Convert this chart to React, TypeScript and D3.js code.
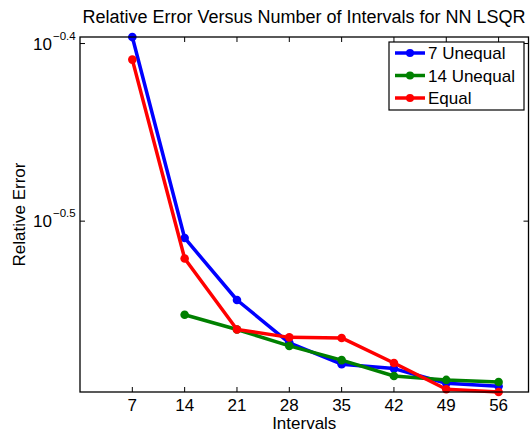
import React from "react";
import * as d3 from "d3";

const intervals = [7, 14, 21, 28, 35, 42, 49, 56];
const unequal7 = [0.4015, 0.3094, 0.2855, 0.2701, 0.2627, 0.2612, 0.2563, 0.2553];
const unequal14Intervals = [14, 21, 28, 35, 42, 49, 56];
const unequal14 = [0.2801, 0.2748, 0.269, 0.2641, 0.2587, 0.2574, 0.2567];
const equal = [0.3899, 0.3013, 0.2748, 0.272, 0.2718, 0.2631, 0.2543, 0.2534];
const xTicks = [7, 14, 21, 28, 35, 42, 49, 56];
const yTickExps = [-0.4, -0.5];
const yTickLabels = ["\u22120.4", "\u22120.5"];
const seriesNames = ["7 Unequal", "14 Unequal", "Equal"];
const seriesColors = ["#0000ff", "#008000", "#ff0000"];

const W = 530;
const H = 437;
const M = { left: 80, right: 528.5, top: 37, bottom: 392 };
const FONT = "'Liberation Sans', Arial, Helvetica, sans-serif";

export default function App() {
  const series = [
    { name: seriesNames[0], color: seriesColors[0], pts: intervals.map((x, i) => [x, unequal7[i]]) },
    { name: seriesNames[1], color: seriesColors[1], pts: unequal14Intervals.map((x, i) => [x, unequal14[i]]) },
    { name: seriesNames[2], color: seriesColors[2], pts: intervals.map((x, i) => [x, equal[i]]) },
  ];
  const all = [...unequal7, ...unequal14, ...equal];
  const x = d3.scaleLinear().domain([0, 60]).range([M.left, M.right]);
  const y = d3.scaleLog().domain(d3.extent(all) as [number, number]).range([M.bottom, M.top]);
  const line = d3
    .line<number[]>()
    .x((d) => x(d[0]))
    .y((d) => y(d[1]));
  const tickLen = 5;
  const legX = 389;
  const legY = 42;
  const legW = 135;
  const legH = 68;
  return (
    <svg width={W} height={H} style={{ position: "absolute", left: 0, top: 0 }} fontFamily={FONT}>
      <rect x={0} y={0} width={W} height={H} fill="#fff" />
      <text x={304} y={23} textAnchor="middle" fontSize={18}>
        Relative Error Versus Number of Intervals for NN LSQR
      </text>
      {xTicks.map((t) => (
        <g key={"xt" + t}>
          <line x1={x(t)} x2={x(t)} y1={M.bottom} y2={M.bottom - tickLen} stroke="#000" />
          <line x1={x(t)} x2={x(t)} y1={M.top} y2={M.top + tickLen} stroke="#000" />
          <text x={x(t)} y={411} textAnchor="middle" fontSize={17}>
            {t}
          </text>
        </g>
      ))}
      {yTickExps.map((e, i) => {
        const yy = y(Math.pow(10, e));
        return (
          <g key={"yt" + e}>
            <line x1={M.left} x2={M.left + tickLen} y1={yy} y2={yy} stroke="#000" />
            <line x1={M.right} x2={M.right - tickLen} y1={yy} y2={yy} stroke="#000" />
            <text x={52} y={yy + 6} textAnchor="end" fontSize={17}>
              10
            </text>
            <text x={53} y={yy - 4} textAnchor="start" fontSize={11.5}>
              {yTickLabels[i]}
            </text>
          </g>
        );
      })}
      {series.map((s) => (
        <g key={s.name}>
          <path d={line(s.pts) || ""} fill="none" stroke={s.color} strokeWidth={3.5} strokeLinejoin="round" />
          {s.pts.map((p, j) => (
            <circle key={j} cx={x(p[0])} cy={y(p[1])} r={4.3} fill={s.color} />
          ))}
        </g>
      ))}
      <rect x={M.left} y={M.top} width={M.right - M.left} height={M.bottom - M.top} fill="none" stroke="#000" strokeWidth={1.3} />
      <text x={(M.left + M.right) / 2} y={429} textAnchor="middle" fontSize={17}>
        Intervals
      </text>
      <text transform={`translate(24.5,${(M.top + M.bottom) / 2}) rotate(-90)`} textAnchor="middle" fontSize={17}>
        Relative Error
      </text>
      <rect x={legX} y={legY} width={legW} height={legH} fill="#fff" stroke="#000" strokeWidth={1.2} />
      {series.map((s, i) => {
        const ly = legY + 11 + i * 22.5;
        return (
          <g key={"leg" + s.name}>
            <line x1={legX + 6} x2={legX + 36} y1={ly} y2={ly} stroke={s.color} strokeWidth={3.5} />
            <circle cx={legX + 21} cy={ly} r={4} fill={s.color} />
            <text x={legX + 39} y={ly + 6} fontSize={17}>
              {s.name}
            </text>
          </g>
        );
      })}
    </svg>
  );
}
